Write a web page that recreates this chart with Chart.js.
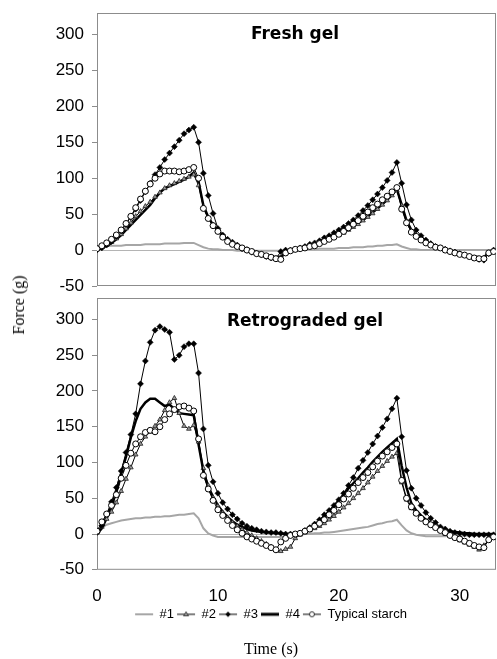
<!DOCTYPE html>
<html>
<head>
<meta charset="utf-8">
<script src="https://cdn.jsdelivr.net/npm/chart.js@4.4.0/dist/chart.umd.min.js"></script>
<style>
  html, body { margin: 0; padding: 0; background: #fff; }
  #wrap { position: relative; width: 497px; height: 659px; overflow: hidden; }
  #top { position: absolute; left: 0; top: 0; }
  #bot { position: absolute; left: 0; top: 292px; }
  #ylab { position: absolute; left: 19px; top: 305px; transform: translate(-50%, -50%) rotate(-90deg);
          font: 16px "Liberation Serif"; color: #000; white-space: nowrap; }
</style>
</head>
<body>
<div id="wrap">
  <canvas id="top" width="497" height="292"></canvas>
  <canvas id="bot" width="497" height="367"></canvas>
  <div id="ylab">Force (g)</div>
</div>
<script>
// time (s), sampled every 0.4 s
const time = [
  0, 0.4, 0.8, 1.2, 1.6, 2.0, 2.4, 2.8, 3.2, 3.6,
  4.0, 4.4, 4.8, 5.2, 5.6, 6.0, 6.4, 6.8, 7.2, 7.6,
  8.0, 8.4, 8.8, 9.2, 9.6, 10.0, 10.4, 10.8, 11.2, 11.6,
  12.0, 12.4, 12.8, 13.2, 13.6, 14.0, 14.4, 14.8, 15.2, 15.6,
  16.0, 16.4, 16.8, 17.2, 17.6, 18.0, 18.4, 18.8, 19.2, 19.6,
  20.0, 20.4, 20.8, 21.2, 21.6, 22.0, 22.4, 22.8, 23.2, 23.6,
  24.0, 24.4, 24.8, 25.2, 25.6, 26.0, 26.4, 26.8, 27.2, 27.6,
  28.0, 28.4, 28.8, 29.2, 29.6, 30.0, 30.4, 30.8, 31.2, 31.6,
  32.0, 32.4, 32.8
];

const seriesNames = ['#1', '#2', '#3', '#4', 'Typical starch'];
const xTicks = [0, 10, 20, 30];
const yTicks = [-50, 0, 50, 100, 150, 200, 250, 300];

// Fresh gel, force (g)
const fresh1 = [
  5, 5, 6, 6, 6, 6, 7, 7, 7, 7,
  8, 8, 8, 8, 9, 9, 9, 9, 10, 10,
  10, 7, 4, 2, 1, 1, 0, 0, 0, -1,
  -1, -1, -1, -1, -1, -1, -1, -1, -1, -1,
  0, 0, 1, 1, 1, 1, 2, 2, 2, 2,
  3, 3, 3, 4, 4, 4, 5, 5, 6, 6,
  7, 7, 8, 5, 3, 1, 1, 0, 0, 0,
  0, 0, 0, 0, 0, 0, 0, 0, 0, 0,
  0, 0, 0
];
const fresh2 = [
  1, 4, 7, 11, 16, 22, 30, 38, 47, 54,
  61, 67, 74, 80, 86, 90, 93, 96, 99, 102,
  105, 90, 60, 45, 35, 27, 20, 14, 9, 6,
  3, 1, -2, -4, -6, -8, -10, -12, -11, -5,
  -1, 0, 2, 3, 5, 7, 9, 12, 15, 18,
  21, 24, 28, 32, 36, 41, 46, 51, 57, 63,
  69, 76, 83, 62, 40, 27, 20, 15, 11, 8,
  5, 3, 1, -1, -3, -5, -7, -9, -11, -12,
  -11, -5, -3
];
const fresh3 = [
  0, 3, 7, 12, 19, 27, 36, 46, 57, 69,
  81, 93, 105, 115, 126, 135, 144, 153, 162, 167,
  171, 150, 107, 76, 51, 30, 21, 15, 11, 7,
  2, 0, -3, -5, -7, -9, -11, -12, -2, 0,
  0, 1, 3, 5, 8, 10, 13, 17, 20, 24,
  28, 32, 37, 42, 48, 55, 62, 70, 78, 87,
  97, 108, 122, 93, 63, 42, 28, 20, 14, 9,
  5, 3, 1, -1, -3, -5, -7, -9, -11, -13,
  -14, -5, 0
];
const fresh4 = [
  0, 3, 6, 10, 15, 21, 28, 35, 42, 49,
  56, 63, 72, 80, 86, 89, 92, 95, 98, 102,
  108, 95, 62, 46, 35, 27, 20, 14, 10, 6,
  3, 1, -1, -3, -5, -7, -9, -10, -9, -4,
  -1, 0, 2, 4, 6, 8, 10, 13, 16, 19,
  22, 26, 29, 33, 38, 42, 47, 53, 58, 64,
  70, 77, 85, 63, 41, 28, 21, 15, 11, 8,
  5, 3, 1, -1, -3, -4, -6, -8, -9, -10,
  -10, -4, -2
];
const freshT = [
  2, 6, 10, 15, 21, 28, 37, 47, 59, 71,
  82, 92, 100, 106, 110, 110, 110, 109, 110, 112,
  115, 100, 58, 44, 34, 26, 18, 12, 8, 5,
  3, 0, -2, -5, -6, -8, -10, -12, -13, -4,
  -1, 1, 2, 3, 5, 6, 9, 12, 15, 18,
  22, 26, 31, 36, 41, 47, 53, 59, 64, 70,
  75, 81, 87, 57, 38, 25, 19, 14, 10, 7,
  4, 3, 0, -2, -4, -6, -7, -9, -11, -12,
  -12, -4, -2
];

// Retrograded gel, force (g)
const retro1 = [
  3, 9, 13, 15, 17, 19, 20, 21, 22, 22,
  23, 23, 24, 24, 25, 25, 26, 27, 27, 28,
  29, 22, 8, 1, -2, -4, -4, -4, -4, -4,
  -4, -4, -4, -4, -4, -4, -4, -4, -4, -3,
  -2, -2, -1, 0, 0, 1, 1, 2, 2, 3,
  4, 5, 6, 7, 8, 9, 10, 12, 14, 15,
  17, 18, 20, 12, 5, 1, -1, -2, -3, -3,
  -3, -3, -3, -2, -2, -2, -2, -2, -2, -2,
  -2, -2, -2
];
const retro2 = [
  2, 10, 21, 31, 44, 60, 77, 93, 111, 126,
  136, 143, 151, 160, 173, 184, 190, 169, 151, 147,
  152, 129, 92, 68, 51, 39, 30, 23, 16, 11,
  6, 2, -2, -6, -10, -14, -18, -22, -24, -21,
  -18, -6, -1, 2, 5, 8, 11, 15, 20, 25,
  31, 37, 43, 50, 57, 64, 72, 80, 88, 95,
  102, 108, 113, 72, 48, 36, 28, 22, 16, 12,
  8, 4, 0, -3, -6, -9, -12, -15, -18, -22,
  -16, -8, -5
];
const retro3 = [
  2, 12, 28, 45, 65, 88, 114, 139, 168, 210,
  242, 268, 285, 290, 286, 282, 244, 250, 262, 266,
  266, 225, 147, 96, 73, 57, 44, 35, 27, 21,
  15, 11, 8, 6, 4, 3, 2, 2, 1, 0,
  0, 0, 1, 5, 9, 14, 20, 27, 33, 40,
  48, 57, 68, 79, 92, 103, 114, 126, 137, 149,
  161, 175, 190, 136, 89, 64, 50, 40, 30, 22,
  16, 10, 7, 4, 2, 1, 0, -1, -1, -1,
  -1, -1, -1
];
const retro4 = [
  0, 8, 22, 38, 60, 85, 108, 135, 158, 175,
  184, 189, 189, 184, 179, 181, 175, 169, 168, 167,
  166, 125, 88, 66, 52, 40, 31, 24, 18, 13,
  10, 7, 5, 4, 3, 2, 2, 1, 1, 0,
  0, 0, 1, 4, 8, 13, 18, 24, 31, 39,
  47, 55, 64, 71, 78, 86, 93, 101, 108, 115,
  121, 127, 133, 95, 65, 43, 33, 26, 20, 15,
  11, 8, 6, 4, 3, 2, 1, 1, 0, 0,
  0, 0, 0
];
const retroT = [
  4, 17, 28, 40, 55, 78, 96, 113, 126, 136,
  142, 145, 143, 150, 160, 168, 174, 178, 179, 176,
  172, 133, 82, 63, 47, 34, 26, 19, 12, 6,
  1, -4, -7, -10, -13, -16, -19, -22, -11, -6,
  -2, 0, 1, 4, 7, 11, 15, 20, 27, 33,
  41, 49, 56, 64, 72, 79, 86, 94, 102, 109,
  115, 121, 126, 75, 50, 38, 29, 22, 17, 13,
  9, 5, 2, -2, -5, -7, -10, -13, -16, -18,
  -19, -8, -4
];

const FRAME = '#8c8c8c';

function pts(vals) {
  return time.map((t, i) => ({ x: t, y: vals[i] }));
}

function makeSets(vals) {
  return [
    { label: seriesNames[0], data: pts(vals[0]), borderColor: '#a6a6a6', borderWidth: 2,
      pointRadius: 0, order: 5 },
    { label: seriesNames[1], data: pts(vals[1]), borderColor: '#000', borderWidth: 1,
      pointStyle: 'triangle', pointRadius: 2.7, pointBackgroundColor: '#9a9a9a',
      pointBorderColor: '#222', pointBorderWidth: 0.8, order: 3 },
    { label: seriesNames[2], data: pts(vals[2]), borderColor: '#000', borderWidth: 1,
      pointStyle: 'rectRot', pointRadius: 3, pointBackgroundColor: '#000',
      pointBorderColor: '#000', pointBorderWidth: 0.5, order: 2 },
    { label: seriesNames[3], data: pts(vals[3]), borderColor: '#000', borderWidth: 2.5,
      pointRadius: 0, order: 4 },
    { label: seriesNames[4], data: pts(vals[4]), borderColor: '#000', borderWidth: 1,
      pointStyle: 'circle', pointRadius: 3, pointBackgroundColor: '#fff',
      pointBorderColor: '#000', pointBorderWidth: 1, order: 1 }
  ];
}

// small line+marker pictures for the legend
function legendIcon(i) {
  const c = document.createElement('canvas');
  c.width = 20; c.height = 10;
  const g = c.getContext('2d');
  g.strokeStyle = i === 0 ? '#a6a6a6' : '#000';
  g.lineWidth = i === 0 ? 2 : (i === 3 ? 3 : 1);
  g.beginPath(); g.moveTo(1, 5); g.lineTo(19, 5); g.stroke();
  g.lineWidth = 0.8;
  if (i === 1) {
    g.fillStyle = '#9a9a9a'; g.strokeStyle = '#222';
    g.beginPath(); g.moveTo(10, 2.5); g.lineTo(12.5, 6.5); g.lineTo(7.5, 6.5); g.closePath();
    g.fill(); g.stroke();
  } else if (i === 2) {
    g.fillStyle = '#000';
    g.beginPath(); g.moveTo(10, 2.3); g.lineTo(12.7, 5); g.lineTo(10, 7.7); g.lineTo(7.3, 5); g.closePath();
    g.fill();
  } else if (i === 4) {
    g.fillStyle = '#fff'; g.strokeStyle = '#000';
    g.beginPath(); g.arc(10, 5, 2.5, 0, Math.PI * 2); g.fill(); g.stroke();
  }
  return c;
}

const panelPlugin = {
  id: 'panel',
  beforeDatasetsDraw(chart) {
    const { ctx, chartArea: a } = chart;
    ctx.save();
    ctx.strokeStyle = FRAME;
    ctx.lineWidth = 1;
    ctx.strokeRect(a.left + 0.5, a.top + 0.5, a.right - a.left - 1, a.bottom - a.top - 1);
    ctx.restore();
  },
  afterDraw(chart, args, opts) {
    const ctx = chart.ctx;
    ctx.save();
    ctx.font = 'bold 17px "DejaVu Sans"';
    ctx.fillStyle = '#000';
    ctx.textAlign = 'center';
    ctx.textBaseline = 'alphabetic';
    ctx.fillText(opts.text, opts.x, opts.base);
    ctx.restore();
  }
};

function options(isBottom, panel) {
  return {
    responsive: false,
    animation: false,
    layout: {
      autoPadding: false,
      padding: { left: 46, right: 1, top: isBottom ? 6 : 13, bottom: isBottom ? 0 : 6 }
    },
    plugins: {
      panel: panel,
      tooltip: { enabled: false },
      legend: {
        display: isBottom,
        position: 'bottom',
        maxHeight: 21,
        labels: {
          usePointStyle: true,
          pointStyleWidth: 18,
          padding: 3,
          color: '#000',
          font: { family: 'Liberation Sans', size: 13 },
          generateLabels: chart => chart.data.datasets.map((ds, i) => ({
            text: ds.label, pointStyle: legendIcon(i), datasetIndex: i,
            hidden: false, lineWidth: 0, fontColor: '#000'
          }))
        }
      },
      title: {
        display: isBottom,
        text: 'Time (s)',
        position: 'bottom',
        color: '#000',
        font: { family: 'Liberation Serif', size: 16, weight: 'normal' },
        padding: { top: 14, bottom: 0 }
      }
    },
    scales: {
      x: {
        type: 'linear',
        display: isBottom,
        min: 0,
        max: 33,
        afterBuildTicks: s => { s.ticks = xTicks.map(v => ({ value: v })); },
        afterFit: s => {
          s.height = isBottom ? 35 : 0;
          s.paddingLeft = 0; s.paddingRight = 0;
        },
        grid: { display: false, drawTicks: false },
        border: { display: false },
        ticks: { color: '#000', padding: 16, maxRotation: 0,
                 font: { family: 'Liberation Sans', size: 17 } }
      },
      y: {
        min: -50,
        max: 330,
        afterBuildTicks: s => { s.ticks = yTicks.map(v => ({ value: v })); },
        afterFit: s => {
          s.width = 51;
          s.paddingTop = 0; s.paddingBottom = 0;
        },
        grid: {
          color: c => (c.tick && c.tick.value === 0) ? '#b4b4b4' : 'rgba(0,0,0,0)',
          tickColor: FRAME,
          tickLength: 5
        },
        border: { display: false },
        ticks: { color: '#000', padding: 8,
                 font: { family: 'Liberation Sans', size: 17 } }
      }
    }
  };
}

new Chart(document.getElementById('top').getContext('2d'), {
  type: 'line',
  data: { datasets: makeSets([fresh1, fresh2, fresh3, fresh4, freshT]) },
  options: options(false, { text: 'Fresh gel', x: 295, base: 39 }),
  plugins: [panelPlugin]
});

new Chart(document.getElementById('bot').getContext('2d'), {
  type: 'line',
  data: { datasets: makeSets([retro1, retro2, retro3, retro4, retroT]) },
  options: options(true, { text: 'Retrograded gel', x: 305, base: 34 }),
  plugins: [panelPlugin]
});
</script>
</body>
</html>
